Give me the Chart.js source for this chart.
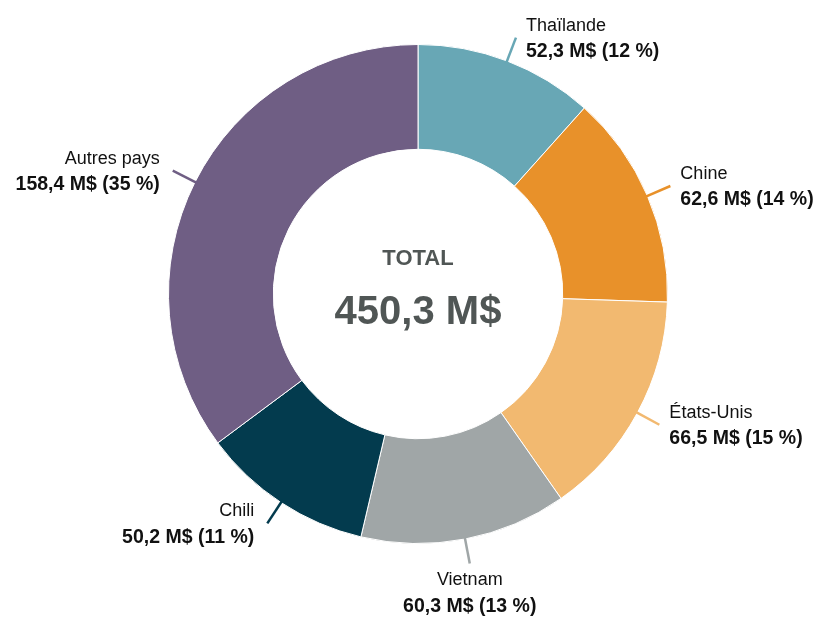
<!DOCTYPE html>
<html>
<head>
<meta charset="utf-8">
<script src="https://cdn.jsdelivr.net/npm/chart.js@4"></script>
<style>
  body { margin: 0; background: #fff; }
</style>
</head>
<body>
<canvas id="donut" width="821" height="620"></canvas>
<script>
var countries = ['Thaïlande', 'Chine', 'États-Unis', 'Vietnam', 'Chili', 'Autres pays'];
var amounts = [52.3, 62.6, 66.5, 60.3, 50.2, 158.4];
var valueLabels = ['52,3 M$ (12 %)', '62,6 M$ (14 %)', '66,5 M$ (15 %)', '60,3 M$ (13 %)', '50,2 M$ (11 %)', '158,4 M$ (35 %)'];
var colors = ['#68a7b5', '#e8912a', '#f2b970', '#a0a6a7', '#033b4e', '#6f5e84'];
var totalLabel = '450,3 M$';

var font = '"Liberation Sans", Arial, sans-serif';

// labels with leader lines around the ring + total in the hole
var labelsPlugin = {
    id: 'ringLabels',
    afterDraw: chart => {
        var ctx = chart.ctx;
        var arcs = chart.getDatasetMeta(0).data;
        ctx.save();
        arcs.forEach((arc, i) => {
            var mid = (arc.startAngle + arc.endAngle) / 2;
            var r = arc.outerRadius;
            var cos = Math.cos(mid), sin = Math.sin(mid);
            var x1 = arc.x + cos * (r - 3), y1 = arc.y + sin * (r - 3);
            var x2 = arc.x + cos * (r + 25), y2 = arc.y + sin * (r + 25);
            ctx.strokeStyle = colors[i];
            ctx.lineWidth = 2.5;
            ctx.beginPath();
            ctx.moveTo(x1, y1);
            ctx.lineTo(x2, y2);
            ctx.stroke();

            ctx.fillStyle = '#111';
            ctx.textBaseline = 'middle';
            var tx, ny, vy;
            if (Math.abs(cos) < 0.3 && sin > 0) {
                ctx.textAlign = 'center';
                tx = x2; ny = y2 + 16; vy = y2 + 43;
            } else {
                ctx.textAlign = cos > 0 ? 'left' : 'right';
                tx = x2 + (cos > 0 ? 10 : -13);
                ny = y2 - 12; vy = ny + 26;
            }
            ctx.font = '18px ' + font;
            ctx.fillText(countries[i], tx, ny);
            ctx.font = 'bold 19.5px ' + font;
            ctx.fillText(valueLabels[i], tx, vy);
        });

        var cx = arcs[0].x, cy = arcs[0].y;
        ctx.fillStyle = '#505655';
        ctx.textAlign = 'center';
        ctx.font = 'bold 22px ' + font;
        ctx.fillText('TOTAL', cx, cy - 35);
        ctx.font = 'bold 40px ' + font;
        ctx.fillText(totalLabel, cx, cy + 19);
        ctx.restore();
    }
};

var chart = new Chart(document.getElementById('donut').getContext('2d'), {
    type: 'doughnut',
    data: {
        labels: countries,
        datasets: [{
            data: amounts,
            backgroundColor: colors,
            borderColor: '#fff',
            borderWidth: 1
        }]
    },
    options: {
        responsive: false,
        animation: false,
        cutout: '58%',
        layout: { padding: { top: 44, bottom: 76, left: 168, right: 153 } },
        plugins: {
            legend: { display: false },
            tooltip: { enabled: false }
        }
    },
    plugins: [labelsPlugin]
});
</script>
</body>
</html>
